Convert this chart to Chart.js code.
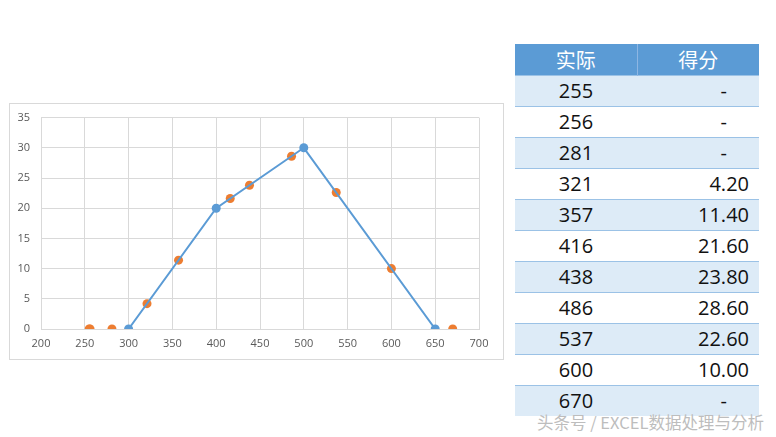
<!DOCTYPE html>
<html>
<head>
<meta charset="utf-8">
<script src="https://cdn.jsdelivr.net/npm/chart.js@4"></script>
<style>
    html, body { margin: 0; padding: 0; background: #fff; }
    body { width: 776px; height: 437px; position: relative; overflow: hidden; font-family: "Noto Sans CJK SC", "Open Sans", sans-serif; }
    #frame { position: absolute; left: 9px; top: 103px; width: 493px; height: 255px; border: 1px solid #d9d9d9; }
    #chartBox { position: absolute; left: 10px; top: 100px; width: 493px; height: 259px; }
    #tbl { position: absolute; left: 515px; top: 44px; border-collapse: collapse; width: 244px; }
    #tbl th { background: #5b9bd5; color: #fff; font-weight: normal; font-size: 20px; height: 31px; padding: 0; line-height: 31px; }
    #tbl th:first-child { border-right: 1px solid #8db6e3; }
    #tbl td { font-size: 20px; height: 30px; padding: 0; line-height: 30px; color: #111; border-top: 1px solid #9bc2e6; font-family: "Open Sans", "Noto Sans CJK SC", sans-serif; }
    #tbl td.a { text-align: center; width: 122px; }
    #tbl td.s { text-align: right; padding-right: 10px; }
    #tbl td.s.dash { padding-right: 32px; }
    #tbl tr.odd td { background: #ddebf7; }
    #mark { position: absolute; left: 537px; top: 410px; color: #bdbdbd; font-size: 16.5px; white-space: nowrap; }
</style>
</head>
<body>
<div id="frame"></div>
<div id="chartBox"><canvas id="chart"></canvas></div>
<table id="tbl">
    <thead><tr><th>实际</th><th>得分</th></tr></thead>
    <tbody id="tbody"></tbody>
</table>
<div id="mark">头条号 / EXCEL数据处理与分析</div>
<script>
// 评分标准折线（蓝）
var standardX = [300, 400, 500, 650];
var standardY = [0, 20, 30, 0];

// 实际值与得分（橙），null 表示 "-"
var actualVals = [255, 256, 281, 321, 357, 416, 438, 486, 537, 600, 670];
var scoreVals = [null, null, null, 4.2, 11.4, 21.6, 23.8, 28.6, 22.6, 10.0, null];

var xTicks = [200, 250, 300, 350, 400, 450, 500, 550, 600, 650, 700];
var yTicks = [0, 5, 10, 15, 20, 25, 30, 35];

// 表格
var tbody = document.getElementById('tbody');
actualVals.forEach(function (v, i) {
    var tr = document.createElement('tr');
    if (i % 2 == 0) tr.className = 'odd';
    var isDash = scoreVals[i] == null;
    var s = isDash ? '-' : scoreVals[i].toFixed(2);
    tr.innerHTML = '<td class="a">' + v + '</td><td class="s' + (isDash ? ' dash' : '') + '">' + s + '</td>';
    tbody.appendChild(tr);
});

var blueData = standardX.map(function (x, i) { return { x: x, y: standardY[i] }; });
var orangeData = actualVals.map(function (x, i) { return { x: x, y: scoreVals[i] == null ? 0 : scoreVals[i] }; });

Chart.defaults.font.family = "'Open Sans', 'Noto Sans', sans-serif";
Chart.defaults.font.size = 11;
Chart.defaults.color = '#595959';

new Chart(document.getElementById('chart').getContext('2d'), {
    type: 'scatter',
    data: {
        datasets: [{
            label: '标准',
            data: blueData,
            showLine: true,
            borderColor: '#5b9bd5',
            backgroundColor: '#5b9bd5',
            borderWidth: 2,
            pointRadius: 4.5,
            pointBorderWidth: 0
        }, {
            label: '得分',
            data: orangeData,
            showLine: false,
            borderColor: '#ed7d31',
            backgroundColor: '#ed7d31',
            pointRadius: 4.5,
            pointBorderWidth: 0
        }]
    },
    options: {
        responsive: true,
        maintainAspectRatio: false,
        animation: false,
        layout: { padding: { left: 0, top: 4, right: 24, bottom: 0 } },
        plugins: { legend: { display: false }, tooltip: { enabled: false } },
        scales: {
            x: {
                type: 'linear',
                min: 200,
                max: 700,
                afterBuildTicks: function (axis) { axis.ticks = xTicks.map(function (v) { return { value: v }; }); },
                afterFit: function (axis) { axis.height = 30; },
                grid: { color: '#d9d9d9', drawTicks: false },
                border: { color: '#d9d9d9' },
                ticks: { padding: 8, maxRotation: 0 }
            },
            y: {
                type: 'linear',
                min: 0,
                max: 35,
                afterBuildTicks: function (axis) { axis.ticks = yTicks.map(function (v) { return { value: v }; }); },
                afterFit: function (axis) { axis.width = 31; },
                grid: { color: '#d9d9d9', drawTicks: false },
                border: { color: '#d9d9d9' },
                ticks: { padding: 11 }
            }
        }
    }
});
</script>
</body>
</html>
